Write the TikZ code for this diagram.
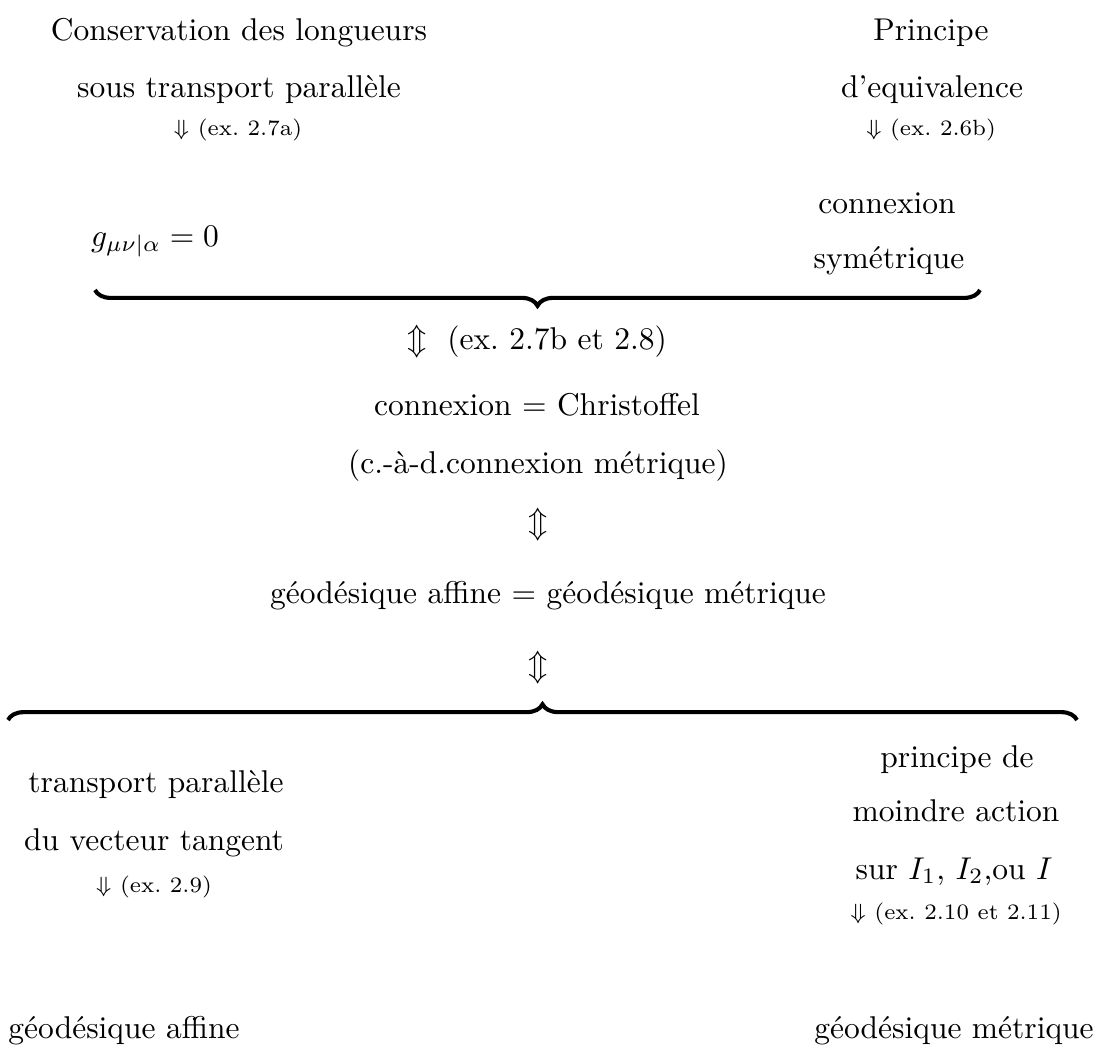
\documentclass[tikz,border=0pt]{standalone}
\usepackage{amsmath}
\usepackage{tikz}
\usetikzlibrary{positioning, decorations.pathreplacing}

\begin{document}
\begin{tikzpicture}[
  x=0.3175pt, y=-0.3175pt,
  txt/.style={anchor=base, inner sep=0pt},
  ref/.style={anchor=base, inner sep=0pt, font=\scriptsize},
  brace/.style={decorate, decoration={brace, amplitude=5pt}, line width=1.3pt},
]
  \useasboundingbox (0,0) rectangle (1094,1044);

  % upper block
  \node[txt] (cons1)  at (239,40)  {Conservation des longueurs};
  \node[txt] (cons2)  at (239,97)  {sous transport parallèle};
  \node[ref] (ref1)   at (238,135) {$\Downarrow$ (ex.\ 2.7a)};
  \node[txt] (equiv1) at (931,40)  {Principe};
  \node[txt] (equiv2) at (932,97)  {d'equivalence};
  \node[ref] (ref2)   at (931,135) {$\Downarrow$ (ex.\ 2.6b)};

  \node[txt] (metric) at (155,246) {$g_{\mu\nu|\alpha}=0$};
  \node[txt] (sym1)   at (887,213) {connexion};
  \node[txt] (sym2)   at (889,268) {symétrique};

  \coordinate (b1l) at (95,290);
  \coordinate (b1r) at (980,290);
  \draw[brace] (b1r) -- (b1l);

  % middle column
  \node[txt] (ref3)   at (537,349) {$\Updownarrow$\ \ (ex.\ 2.7b et 2.8)};
  \node[txt] (chris1) at (537,415) {connexion $=$ Christoffel};
  \node[txt] (chris2) at (538,473) {(c.-à-d.connexion métrique)};
  \node[inner sep=0pt] (eq1) at (538,525) {$\Updownarrow$};
  \node[txt] (geo)    at (548,603) {géodésique affine $=$ géodésique métrique};
  \node[inner sep=0pt] (eq2) at (538,668) {$\Updownarrow$};

  \coordinate (b2l) at (8,720);
  \coordinate (b2r) at (1077,720);
  \draw[brace] (b2l) -- (b2r);

  % lower block
  \node[txt] (tp1)  at (156,792) {transport parallèle};
  \node[txt] (tp2)  at (154,850) {du vecteur tangent};
  \node[ref] (ref4) at (154,892) {$\Downarrow$ (ex.\ 2.9)};
  \node[txt] (pma1) at (957,767) {principe de};
  \node[txt] (pma2) at (956,821) {moindre action};
  \node[txt] (pma3) at (954,879) {sur $I_1$, $I_2$,ou $I$};
  \node[ref] (ref5) at (956,919) {$\Downarrow$ (ex.\ 2.10 et 2.11)};

  \node[txt] (ga) at (124,1038) {géodésique affine};
  \node[txt] (gm) at (954,1038) {géodésique métrique};
\end{tikzpicture}
\end{document}
